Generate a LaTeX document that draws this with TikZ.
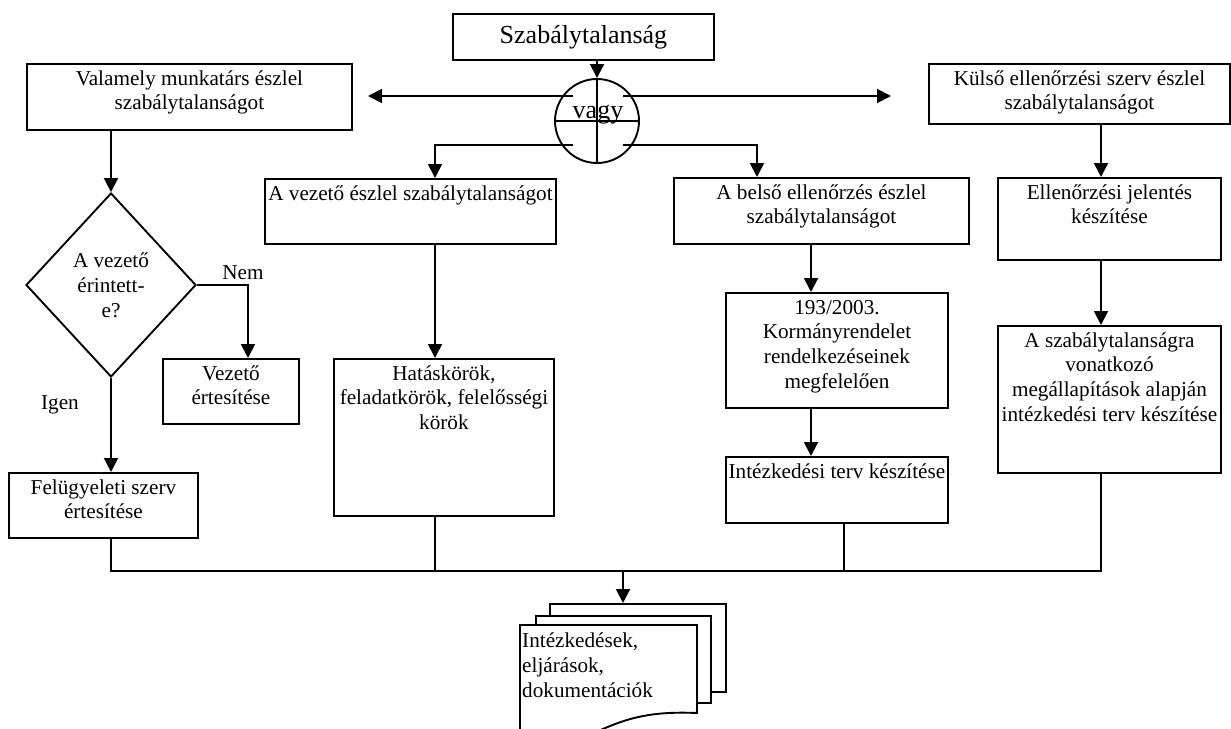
\documentclass[tikz,border=0pt]{standalone}
\usepackage{fontspec}
\setmainfont{Liberation Serif}
\usetikzlibrary{arrows.meta,shapes.geometric}
\newcommand{\bodyfont}{\fontsize{21.2}{24.8}\selectfont}
\newcommand{\bigfont}{\fontsize{26}{30}\selectfont}
\tikzset{
  box/.style={draw, line width=1.9pt, anchor=north west, inner sep=0pt},
  boxtxt/.style={font=\bodyfont, align=center, inner sep=0pt, anchor=north,
                 yshift=-4.6pt},
  dec/.style={diamond, draw, line width=1.9pt, minimum width=170pt,
              minimum height=184pt, inner sep=0pt, font=\bodyfont, align=center},
  lbl/.style={font=\bodyfont, inner sep=0pt},
  flow/.style={-{Triangle[length=14pt,width=14pt]}, line width=1.9pt},
  link/.style={line width=1.9pt},
}
\newcommand{\FlowBox}[6]{%
  \node[box, minimum width=#4pt, minimum height=#5pt,
        label={[boxtxt]north:{\strut #6}}] (#1) at (#2,#3) {};}

\begin{document}
\begin{tikzpicture}[x=1pt,y=-1pt]
  \useasboundingbox (0,0) rectangle (1231,728);
  \node[box, font=\bigfont, minimum width=261pt, minimum height=46pt]
        (irr) at (452,13) {Szabálytalanság};
  \node[circle, draw, line width=1.9pt, minimum size=84pt, inner sep=0pt]
        (vagy) at (597,121) {};
  \draw[link] (vagy.north) -- (vagy.south) (vagy.west) -- (vagy.east);
  \node[font=\bigfont, inner sep=0pt, anchor=base] (vagytxt) at (598,118.5) {vagy};

  \FlowBox{munk}{26}{63}{325}{66}{Valamely munkatárs észlel\\szabálytalanságot}
  \FlowBox{kulso}{928}{63}{301}{60}{Külső ellenőrzési szerv észlel\\szabálytalanságot}
  \FlowBox{vez}{264}{178}{291}{65}{A vezető észlel szabálytalanságot}
  \FlowBox{belso}{673}{177}{295}{66}{A belső ellenőrzés észlel\\szabálytalanságot}
  \FlowBox{jel}{997}{177}{223}{82}{Ellenőrzési jelentés\\készítése}
  \FlowBox{vert}{162}{358}{136}{65}{Vezető\\értesítése}
  \FlowBox{fel}{8}{472}{189}{65}{Felügyeleti szerv\\értesítése}
  \FlowBox{hat}{333}{358}{220}{157}{Hatáskörök,\\feladatkörök, felelősségi\\körök}
  \FlowBox{rend}{725}{292}{222}{115}{193/2003.\\Kormányrendelet\\rendelkezéseinek\\megfelelően}
  \FlowBox{terv}{725}{456}{222}{66}{Intézkedési terv készítése}
  \FlowBox{meg}{997}{325}{223}{147}{A szabálytalanságra\\vonatkozó\\megállapítások alapján\\intézkedési terv készítése}
  \node[dec] (erint) at (111,285) {A vezető\\érintett-\\e?};
  \node[lbl] (nem) at (243,273) {Nem};
  \node[lbl] (igen) at (60,405) {Igen};

  % documents at the bottom
  \node[box, fill=white, minimum width=176pt, minimum height=88pt] (doc3) at (549,603) {};
  \node[box, fill=white, minimum width=175pt, minimum height=87pt] (doc2) at (535,615) {};
  \draw[link, fill=white] (520,760) -- (520,625) -- (697,625) -- (697,713)
        .. controls (650,711) and (625,718) .. (590,735) -- cycle;
  \node[lbl, align=left, anchor=north west] (doc1) at (522,630)
        {\strut Intézkedések,\\eljárások,\\dokumentációk};

  % columns and joints
  \coordinate (nyb) at (368,96);
  \coordinate (nyj) at (891,96);
  \coordinate (kB) at (248,0);
  \coordinate (kC) at (435,0);
  \coordinate (kD) at (757,0);
  \coordinate (kE) at (811,0);
  \coordinate (kF) at (844,0);
  \coordinate (kG) at (1101,0);
  \coordinate (bus) at (623,571);

  \draw[flow] (irr.south -| vagy.north) -- (vagy.north);
  \draw[flow] ([shift={(-24,-25)}]vagy.center) -- (nyb);
  \draw[flow] ([shift={(26,-25)}]vagy.center) -- (nyj);
  \draw[flow] ([shift={(-24,24)}]vagy.center) -| (vez.north -| kC);
  \draw[flow] ([shift={(26,24)}]vagy.center) -| (belso.north -| kD);
  \draw[flow] (munk.south -| erint.north) -- (erint.north);
  \draw[flow] (erint.east) -| (vert.north -| kB);
  \draw[flow] (erint.south) -- (fel.north -| erint.south);
  \draw[flow] (vez.south -| kC) -- (hat.north -| kC);
  \draw[flow] (belso.south -| kE) -- (rend.north -| kE);
  \draw[flow] (rend.south -| kE) -- (terv.north -| kE);
  \draw[flow] (kulso.south -| kG) -- (jel.north -| kG);
  \draw[flow] (jel.south -| kG) -- (meg.north -| kG);
  \draw[link] (fel.south -| erint.south) |- (bus) -| (meg.south -| kG);
  \draw[link] (hat.south -| kC) -- (bus -| kC);
  \draw[link] (terv.south -| kF) -- (bus -| kF);
  \draw[flow] (bus) -- (bus |- doc3.north);
\end{tikzpicture}
\end{document}
